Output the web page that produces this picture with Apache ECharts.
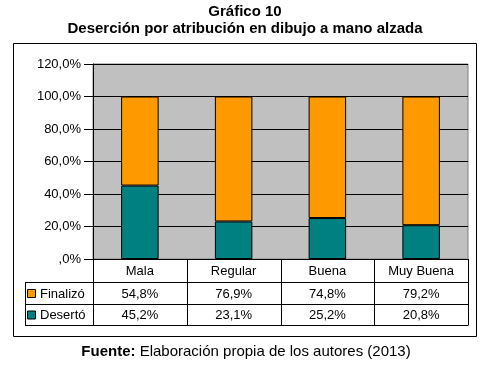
<!DOCTYPE html>
<html>
<head>
<meta charset="utf-8">
<script src="https://cdn.jsdelivr.net/npm/echarts@6/dist/echarts.min.js"></script>
<style>
  html, body { margin: 0; padding: 0; background: #fff; }
  #chart { width: 483px; height: 376px; }
</style>
</head>
<body>
<div id="chart"></div>
<script>
// datos del gráfico
var categories = ["Mala", "Regular", "Buena", "Muy Buena"];
var finalizo = [54.8, 76.9, 74.8, 79.2];
var deserto = [45.2, 23.1, 25.2, 20.8];
var seriesNames = ["Finalizó", "Desertó"];
var colors = ["#ff9900", "#008080"];
var FONT = "Liberation Sans, Arial, sans-serif";

function pct(v) {
  var s = v.toFixed(1).replace(".", ",");
  return (v === 0 ? "," + s.split(",")[1] : s) + "%";
}

var myChart = echarts.init(document.getElementById("chart"));
var gridL = 93, gridT = 64, gridR = 468, gridB = 259;

myChart.setOption({
  animation: false,
  textStyle: { fontFamily: FONT },
  grid: {
    left: gridL,
    top: gridT,
    right: 483 - gridR,
    bottom: 376 - gridB,
    show: true,
    backgroundColor: "#c0c0c0",
    borderColor: "#808080",
    borderWidth: 1
  },
  xAxis: {
    type: "category",
    data: categories,
    axisLine: { lineStyle: { color: "#000" } },
    axisTick: { show: false },
    axisLabel: { show: false }
  },
  yAxis: {
    type: "value",
    min: 0,
    max: 120,
    interval: 20,
    axisLine: { show: true, lineStyle: { color: "#000" } },
    axisTick: { show: true, length: 9, lineStyle: { color: "#000" } },
    axisLabel: {
      formatter: function (v) { return pct(v); },
      color: "#000",
      fontSize: 13,
      margin: 12
    },
    splitLine: { lineStyle: { color: "#000", width: 1 } }
  },
  series: [
    {
      name: seriesNames[1],
      type: "bar",
      stack: "total",
      data: deserto,
      barWidth: "40%",
      itemStyle: { color: colors[1], borderColor: "#000", borderWidth: 1 }
    },
    {
      name: seriesNames[0],
      type: "bar",
      stack: "total",
      data: finalizo,
      barWidth: "40%",
      itemStyle: { color: colors[0], borderColor: "#000", borderWidth: 1 }
    }
  ]
});

// tabla de datos debajo del gráfico
var rowY = [gridB, 282, 304, 325];
var tableL = 25;
var colX = [gridL];
categories.forEach(function (c, i) {
  var cx = myChart.convertToPixel({ xAxisIndex: 0 }, c);
  var half = (gridR - gridL) / categories.length / 2;
  colX.push(cx + half);
});

var g = [];
// caja exterior
g.push({ type: "rect", shape: { x: 13.5, y: 43.5, width: 463, height: 293 },
  style: { fill: null, stroke: "#000", lineWidth: 1 }, z: 0 });
// títulos
g.push({ type: "text", x: 245, y: 12, style: { text: "Gráfico 10", font: "bold 15px " + FONT,
  fill: "#000", align: "center", verticalAlign: "middle" } });
g.push({ type: "text", x: 245, y: 29, style: { text: "Deserción por atribución en dibujo a mano alzada",
  font: "bold 15px " + FONT, fill: "#000", align: "center", verticalAlign: "middle" } });
g.push({ type: "text", x: 246, y: 352, style: {
  text: "{b|Fuente:} Elaboración propia de los autores (2013)",
  font: "15px " + FONT, fill: "#000", align: "center", verticalAlign: "middle",
  rich: { b: { fontWeight: "bold", fontSize: 15, fontFamily: FONT } } } });

function line(x1, y1, x2, y2) {
  g.push({ type: "line", shape: { x1: x1, y1: y1, x2: x2, y2: y2 },
    style: { stroke: "#000", lineWidth: 1 }, z: 10 });
}
line(tableL, rowY[1] + 0.5, gridR, rowY[1] + 0.5);
line(tableL, rowY[2] + 0.5, gridR, rowY[2] + 0.5);
line(tableL, rowY[3] + 0.5, gridR, rowY[3] + 0.5);
line(tableL + 0.5, rowY[1], tableL + 0.5, rowY[3] + 0.5);
colX.forEach(function (x) {
  var px = Math.round(x) + 0.5;
  line(px, rowY[0], px, rowY[3] + 0.5);
});

var rows = [null, finalizo, deserto];
for (var r = 0; r < 3; r++) {
  var cy = (rowY[r] + rowY[r + 1]) / 2 + 1;
  categories.forEach(function (c, i) {
    var cx = (colX[i] + colX[i + 1]) / 2;
    var txt = r === 0 ? c : pct(rows[r][i]);
    g.push({ type: "text", x: cx, y: cy, style: { text: txt, font: "13px " + FONT,
      fill: "#000", align: "center", verticalAlign: "middle" } });
  });
  if (r > 0) {
    g.push({ type: "rect", shape: { x: 27.5, y: cy - 4.5, width: 8, height: 8 },
      style: { fill: colors[r - 1], stroke: "#000", lineWidth: 1 } });
    g.push({ type: "text", x: 40, y: cy, style: { text: seriesNames[r - 1], font: "13px " + FONT,
      fill: "#000", align: "left", verticalAlign: "middle" } });
  }
}

myChart.setOption({ graphic: g });
</script>
</body>
</html>
